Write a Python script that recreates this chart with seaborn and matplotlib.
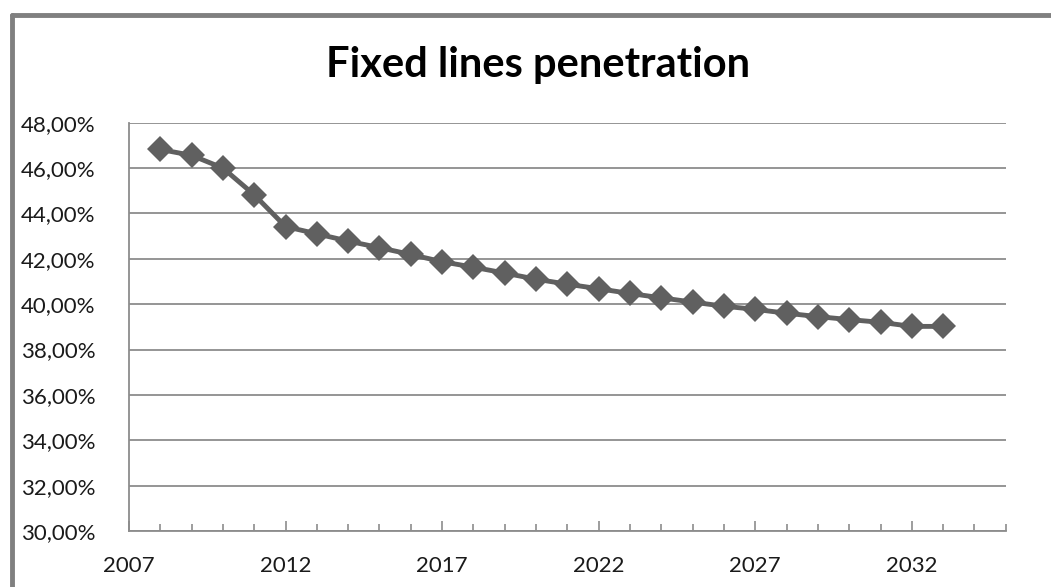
import matplotlib
matplotlib.use("Agg")
import matplotlib.pyplot as plt
import matplotlib.ticker as mticker
import pandas as pd
import seaborn as sns

# data
years = list(range(2008, 2034))
penetration = [46.82, 46.56, 46.00, 44.82, 43.42, 43.10, 42.78, 42.49, 42.19, 41.87,
               41.63, 41.37, 41.10, 40.88, 40.68, 40.47, 40.28, 40.09, 39.91, 39.77,
               39.60, 39.45, 39.32, 39.20, 39.02, 39.02]
year_ticks = [2007, 2012, 2017, 2022, 2027, 2032]
title = "Fixed lines penetration"

df = pd.DataFrame({"Year": years, "Penetration": penetration})

sns.set_style("white")
plt.rcParams["font.family"] = ["Lato", "DejaVu Sans"]

fig = plt.figure(figsize=(10.51, 5.87), dpi=100)
ax = fig.add_axes([0.1227, 0.0954, 0.8343, 0.6956])

sns.lineplot(x="Year", y="Penetration", data=df, ax=ax, color="#606060",
             linewidth=3.5, marker="D", markersize=13, markeredgewidth=0)

ax.set_xlim(2007, 2035)
ax.set_ylim(30, 48)
ax.set_xticks(year_ticks)
ax.set_xticklabels([str(y) for y in year_ticks])
ax.xaxis.set_minor_locator(mticker.MultipleLocator(1))
ax.yaxis.set_major_locator(mticker.MultipleLocator(2))
ax.yaxis.set_major_formatter(mticker.FuncFormatter(lambda v, p: f"{v:.2f}%".replace(".", ",")))

ax.grid(axis="y", color="#8c8c8c", linewidth=1.3)
ax.set_axisbelow(True)
for side in ["top", "right"]:
    ax.spines[side].set_visible(False)
for side in ["left", "bottom"]:
    ax.spines[side].set_color("#8c8c8c")
    ax.spines[side].set_linewidth(1.3)

ax.tick_params(axis="x", which="major", bottom=True, direction="in", length=7, width=1.2,
               color="#8c8c8c", labelsize=16, labelcolor="#1a1a1a", pad=18)
ax.tick_params(axis="x", which="minor", bottom=True, direction="in", length=5, width=1.2,
               color="#8c8c8c")
ax.tick_params(axis="y", length=0, labelsize=16, labelcolor="#1a1a1a", pad=24)
ax.set_xlabel("")
ax.set_ylabel("")

fig.text(0.512, 0.89, title, ha="center", va="center", fontsize=30, fontweight="bold",
         color="black")

# outer chart frame (top and left edges visible)
fig.add_artist(plt.Line2D([0.0115, 1.0], [0.9745, 0.9745], color="#808080", linewidth=3.5))
fig.add_artist(plt.Line2D([0.0115, 0.0115], [0.0, 0.9745], color="#808080", linewidth=3.5))

fig.savefig("out.png", dpi=100)
